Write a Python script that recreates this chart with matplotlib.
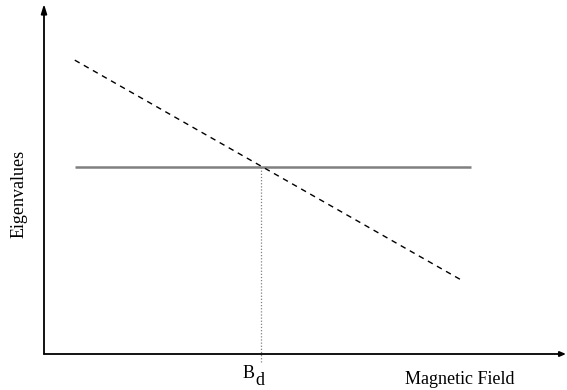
import matplotlib
matplotlib.use("Agg")
import matplotlib.pyplot as plt

plt.rcParams['font.family'] = ['Liberation Serif', 'DejaVu Serif']

# Field range of the two levels (arbitrary units)
field_flat = [0.60, 8.32]
level_flat = [5.36, 5.36]
field_slope = [0.60, 8.17]
level_slope = [8.42, 2.09]
# Crossing field
b_d = 4.23
b_d_main, b_d_sub = "B", "d"

x_label = "Magnetic Field"
y_label = "Eigenvalues"

PX_X, PX_Y = 51.3, 34.9   # pixels per data unit
fig = plt.figure(figsize=(5.67, 3.9), dpi=100)
ax = fig.add_axes([0, 0, 1, 1])
ax.set_xlim(-44 / PX_X, (567 - 44) / PX_X)
ax.set_ylim((354 - 390) / PX_Y, 354 / PX_Y)
ax.axis('off')

# Axes with arrow heads
arrow_v = dict(arrowstyle='-|>,head_length=0.55,head_width=0.17', lw=1.3,
               color='black', shrinkA=0, shrinkB=0)
arrow_h = dict(arrowstyle='-|>,head_length=0.35,head_width=0.15', lw=1.3,
               color='black', shrinkA=0, shrinkB=0)
ax.annotate('', xy=(0, 350 / PX_Y), xytext=(0, 0), arrowprops=arrow_v)
ax.annotate('', xy=(522 / PX_X, 0), xytext=(0, 0), arrowprops=arrow_h)

# Field-independent level
ax.plot(field_flat, level_flat, color='#808080', lw=1.8, solid_capstyle='butt')
# Field-dependent level
ax.plot(field_slope, level_slope, color='black', lw=1.0, linestyle=(0, (4, 3.5)))
# Marker of the crossing field
ax.plot([b_d, b_d], [level_flat[0], -8 / PX_Y], color='#808080', lw=0.9,
        linestyle=(0, (1, 1.5)))

ax.text(b_d - 6 / PX_X, -24 / PX_Y, b_d_main, ha='right', va='baseline', fontsize=13)
ax.text(b_d - 6 / PX_X, -31 / PX_Y, b_d_sub, ha='left', va='baseline', fontsize=13)
ax.text(416 / PX_X, -30 / PX_Y, x_label, ha='center', va='baseline', fontsize=13)
ax.text(-25 / PX_X, 160 / PX_Y, y_label, ha='center', va='center', rotation=90,
        fontsize=13)

fig.savefig("out.png", dpi=100)
